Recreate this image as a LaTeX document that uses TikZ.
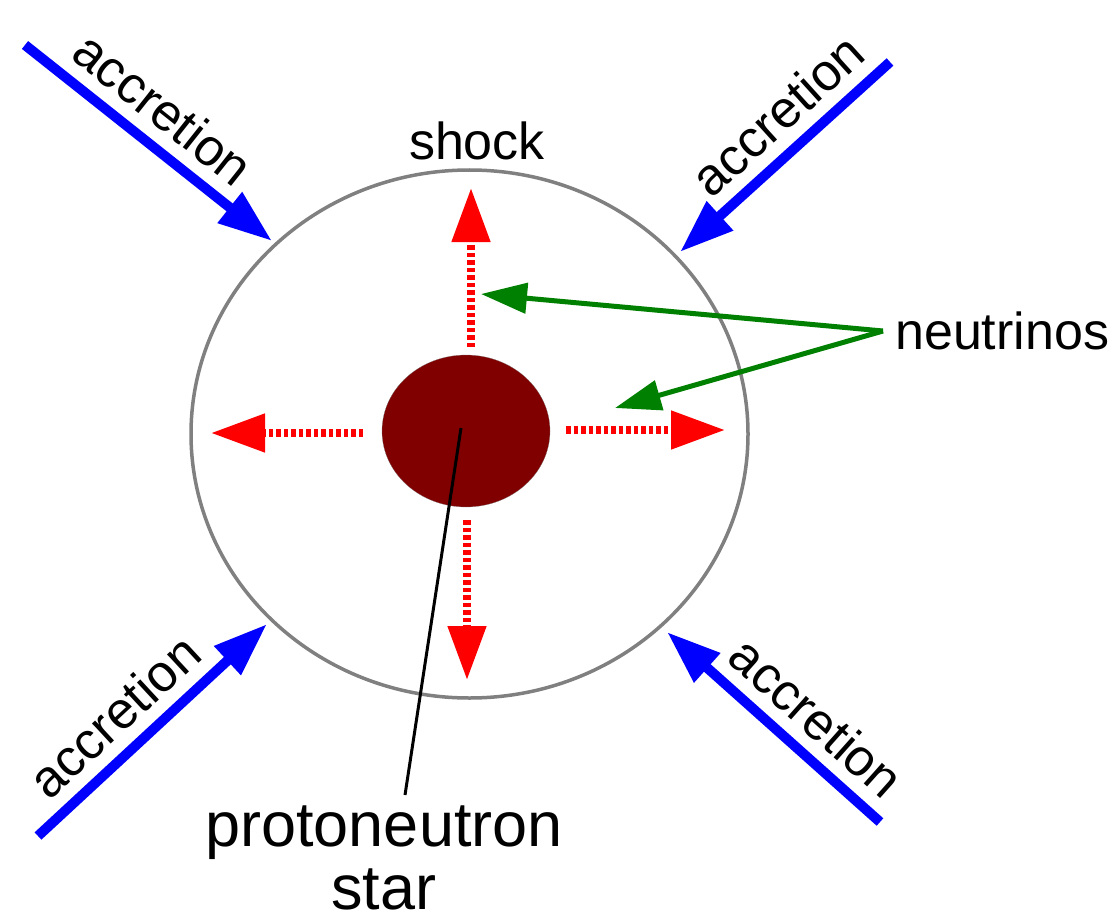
\documentclass[tikz,border=0pt]{standalone}
\usepackage{fontspec}
\setmainfont{Liberation Sans}
\usepackage{tikz}
\usetikzlibrary{shapes.geometric, arrows.meta, positioning}
\definecolor{stardark}{RGB}{128,0,0}
\definecolor{shockgray}{RGB}{128,128,128}
\definecolor{nugreen}{RGB}{0,128,0}
\tikzset{
    supernova/.style={x=1pt, y=-1pt, font=\fontsize{52}{62}\selectfont},
    shock front/.style={ellipse, draw=shockgray, line width=3.5pt,
        minimum width=557pt, minimum height=528pt, inner sep=0pt},
    proto star/.style={ellipse, draw=shockgray, very thin, fill=stardark,
        minimum width=168pt, minimum height=152pt, inner sep=0pt},
    accretion arrow/.style={-{Triangle[length=54pt, width=37pt]}, blue, line width=10pt},
    accretion label/.style={sloped, above, inner sep=12pt, text=black},
    neutrino arrow/.style={-{Triangle[length=54pt, width=37pt]}, red,
        line width=8pt, dash pattern=on 4.5pt off 3pt},
    neutrino pointer/.style={-{Triangle[length=46pt, width=30pt]}, nugreen, line width=5pt},
    star pointer/.style={line width=3pt},
}

\begin{document}
\begin{tikzpicture}[supernova]
    \useasboundingbox (0,0) rectangle (1116,920);

    % shock and protoneutron star
    \node[shock front] (shock) at (469.5,434) {};
    \node[proto star] (pns) at (466,431) {};
    \node[anchor=base] (shocklabel) at (477,160) {shock};

    % neutrino flux
    \coordinate (nuN0) at (471,347);  \coordinate (nuN) at (471,188);
    \coordinate (nuS0) at (467,520);  \coordinate (nuS) at (467,680);
    \coordinate (nuW0) at (363,433);  \coordinate (nuW) at (211,433);
    \coordinate (nuE0) at (566,430);  \coordinate (nuE) at (725,430);
    \draw[neutrino arrow] (nuN0) -- (nuN);
    \draw[neutrino arrow] (nuS0) -- (nuS);
    \draw[neutrino arrow] (nuW0) -- (nuW);
    \draw[neutrino arrow] (nuE0) -- (nuE);

    \node[anchor=west, inner xsep=12pt, inner ysep=0pt] (nulabel) at (883,331) {neutrinos};
    \coordinate (nuTipA) at (481,294);
    \coordinate (nuTipB) at (615,408);
    \draw[neutrino pointer] (nulabel.west) -- (nuTipA);
    \draw[neutrino pointer] (nulabel.west) -- (nuTipB);

    % accretion
    \coordinate (accNW0) at (25,45);   \coordinate (accNW) at (272,241);
    \coordinate (accNE0) at (890,62);  \coordinate (accNE) at (680,252);
    \coordinate (accSW0) at (38,836);  \coordinate (accSW) at (267,624);
    \coordinate (accSE0) at (880,822); \coordinate (accSE) at (667,632);
    \draw[accretion arrow] (accNW0) -- node[accretion label, pos=0.47] {accretion} (accNW);
    \draw[accretion arrow] (accNE0) -- node[accretion label, pos=0.42] {accretion} (accNE);
    \draw[accretion arrow] (accSW0) -- node[accretion label, pos=0.44] {accretion} (accSW);
    \draw[accretion arrow] (accSE0) -- node[accretion label, pos=0.41] {accretion} (accSE);

    % label of the star
    \node[align=center, anchor=north, inner sep=0pt, font=\fontsize{63}{63}\selectfont]
        (pnslabel) at (384,806) {protoneutron\\star};
    \coordinate (pnsTail) at (405,795);
    \draw[star pointer] (pns.center) ++(-5,-3) -- (pnsTail);
\end{tikzpicture}
\end{document}
